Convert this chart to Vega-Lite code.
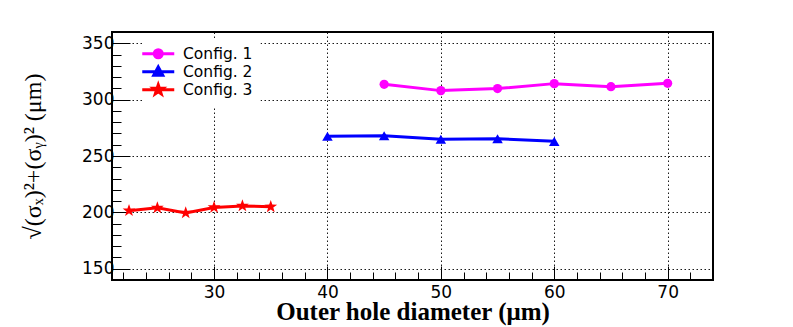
{
  "$schema": "https://vega.github.io/schema/vega-lite/v6.json",
  "autosize": "none",
  "width": 601,
  "height": 248,
  "padding": {"left": 112, "top": 32, "right": 80, "bottom": 47},
  "background": "white",
  "config": {"view": {"stroke": "black", "strokeWidth": 2}},
  "data": {
    "values": [
      {"config": "Config. 1", "d": 45, "v": 313.6},
      {"config": "Config. 1", "d": 50, "v": 308.0},
      {"config": "Config. 1", "d": 55, "v": 309.8},
      {"config": "Config. 1", "d": 60, "v": 314.2},
      {"config": "Config. 1", "d": 65, "v": 311.5},
      {"config": "Config. 1", "d": 70, "v": 314.5},
      {"config": "Config. 2", "d": 40, "v": 267.5},
      {"config": "Config. 2", "d": 45, "v": 268.0},
      {"config": "Config. 2", "d": 50, "v": 264.8},
      {"config": "Config. 2", "d": 55, "v": 265.3},
      {"config": "Config. 2", "d": 60, "v": 263.0},
      {"config": "Config. 3", "d": 22.5, "v": 201.5},
      {"config": "Config. 3", "d": 25, "v": 204.0},
      {"config": "Config. 3", "d": 27.5, "v": 199.5},
      {"config": "Config. 3", "d": 30, "v": 204.4},
      {"config": "Config. 3", "d": 32.5, "v": 205.7},
      {"config": "Config. 3", "d": 35, "v": 205.0}
    ]
  },
  "encoding": {
    "x": {
      "field": "d", "type": "quantitative",
      "scale": {"domain": [21, 74], "nice": false, "zero": false},
      "axis": {
        "title": "Outer hole diameter (μm)",
        "titleFont": "Liberation Serif", "titleFontWeight": "bold", "titleFontSize": 25, "titleColor": "black",
        "titlePadding": -1,
        "values": [22,24,26,28,30,32,34,36,38,40,42,44,46,48,50,52,54,56,58,60,62,64,66,68,70,72,74],
        "labelExpr": "datum.value % 10 === 0 ? datum.label : ''",
        "labelFont": "DejaVu Sans", "labelFontSize": 17, "labelColor": "black",
        "labelPadding": 18,
        "domain": false,
        "tickColor": "black", "tickWidth": 1,
        "tickSize": {"condition": {"test": "datum.value % 10 === 0", "value": -14}, "value": -8},
        "grid": true, "gridColor": "black", "gridDash": [1.5, 2.5], "gridWidth": 1,
        "gridOpacity": {"condition": {"test": "datum.value % 10 === 0", "value": 0.9}, "value": 0}
      }
    },
    "y": {
      "field": "v", "type": "quantitative",
      "scale": {"domain": [140, 360], "nice": false, "zero": false},
      "axis": {
        "title": "√(σₓ)²+(σᵧ)² (μm)",
        "titleFont": "Liberation Serif", "titleFontWeight": "normal", "titleFontSize": 24, "titleColor": "black",
        "titlePadding": 36,
        "values": [150,160,170,180,190,200,210,220,230,240,250,260,270,280,290,300,310,320,330,340,350],
        "labelExpr": "datum.value % 50 === 0 ? datum.label : ''",
        "labelFont": "DejaVu Sans", "labelFontSize": 17, "labelColor": "black",
        "labelPadding": 16,
        "domain": false,
        "tickColor": "black", "tickWidth": 1,
        "tickSize": {"condition": {"test": "datum.value % 50 === 0", "value": -18}, "value": -9},
        "grid": true, "gridColor": "black", "gridDash": [1.5, 2.5], "gridWidth": 1,
        "gridOpacity": {"condition": {"test": "datum.value % 50 === 0", "value": 0.9}, "value": 0}
      }
    },
    "color": {
      "field": "config", "type": "nominal",
      "scale": {"domain": ["Config. 1", "Config. 2", "Config. 3"], "range": ["#ff00ff", "#0000ff", "#ff0000"]},
      "legend": {
        "title": null,
        "orient": "none", "legendX": 30.5, "legendY": 6,
        "fillColor": "white", "padding": 8,
        "labelFont": "DejaVu Sans", "labelFontSize": 15.5, "labelColor": "black",
        "labelOffset": 17, "rowPadding": -4,
        "symbolSize": 100, "symbolStrokeWidth": 3
      }
    }
  },
  "layer": [
    {
      "mark": {"type": "line", "strokeWidth": 3},
      "encoding": {
        "shape": {
          "field": "config", "type": "nominal",
          "scale": {"domain": ["Config. 1", "Config. 2", "Config. 3"], "range": [
            "M-3.2,0H3.2M-0.8,0A0.8,0.8 0 1,0 0.8,0A0.8,0.8 0 1,0 -0.8,0Z",
            "M-3.2,0H3.2M0,-0.95L0.9,0.7L-0.9,0.7Z",
            "M-3.2,0H3.2M0,-1L0.235,-0.324L0.951,-0.309L0.38,0.124L0.588,0.809L0,0.4L-0.588,0.809L-0.38,0.124L-0.951,-0.309L-0.235,-0.324Z"
          ]},
          "legend": {
            "title": null,
            "orient": "none", "legendX": 30.5, "legendY": 6,
            "fillColor": "white", "padding": 8,
            "labelFont": "DejaVu Sans", "labelFontSize": 15.5, "labelColor": "black",
            "labelOffset": 17, "rowPadding": -4,
            "symbolSize": 100, "symbolStrokeWidth": 3
          }
        }
      }
    },
    {
      "transform": [{"filter": "datum.config === 'Config. 1'"}],
      "mark": {"type": "point", "filled": true, "opacity": 1, "shape": "circle", "size": 85}
    },
    {
      "transform": [{"filter": "datum.config === 'Config. 2'"}],
      "mark": {"type": "point", "filled": true, "opacity": 1, "shape": "triangle-up", "size": 110}
    },
    {
      "transform": [{"filter": "datum.config === 'Config. 3'"}],
      "mark": {"type": "point", "filled": true, "opacity": 1, "shape": "M0,-1L0.235,-0.324L0.951,-0.309L0.38,0.124L0.588,0.809L0,0.4L-0.588,0.809L-0.38,0.124L-0.951,-0.309L-0.235,-0.324Z", "size": 180}
    }
  ]
}
